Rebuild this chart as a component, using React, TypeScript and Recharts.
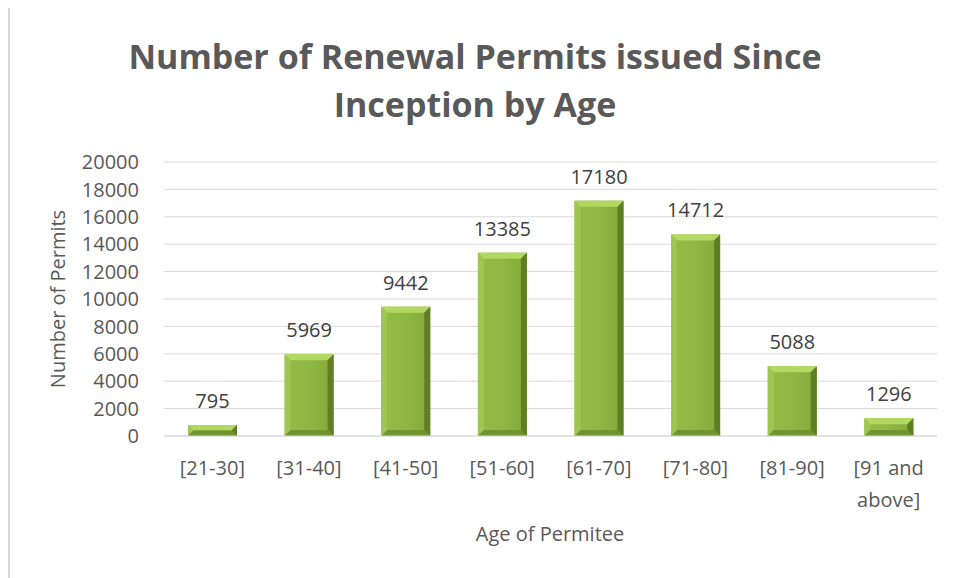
import React from 'react';
import { Bar, BarChart, CartesianGrid, LabelList, XAxis, YAxis } from 'recharts';

const ageGroups = ['[21-30]', '[31-40]', '[41-50]', '[51-60]', '[61-70]', '[71-80]', '[81-90]', '[91 and above]'];
const permits = [795, 5969, 9442, 13385, 17180, 14712, 5088, 1296];
const yTicks = [0, 2000, 4000, 6000, 8000, 10000, 12000, 14000, 16000, 18000, 20000];

const data = ageGroups.map((age, i) => ({ age, permits: permits[i] }));

const FONT = '"Open Sans", sans-serif';
const GRAY = '#595959';

const BevelBar = (props: any) => {
  const { x, y, width: w, height: h } = props;
  if (!h || h <= 0) return null;
  const b = Math.min(6, h / 2);
  return (
    <g>
      <rect x={x} y={y} width={w} height={h} fill="url(#barBody)" />
      <polygon points={`${x},${y} ${x + w},${y} ${x + w - b},${y + b} ${x + b},${y + b}`} fill="#b3d862" />
      <polygon points={`${x},${y} ${x + b},${y + b} ${x + b},${y + h - b} ${x},${y + h}`} fill="#9fc552" />
      <polygon points={`${x + w},${y} ${x + w},${y + h} ${x + w - b},${y + h - b} ${x + w - b},${y + b}`} fill="#607f25" />
      <polygon points={`${x},${y + h} ${x + w},${y + h} ${x + w - b},${y + h - b} ${x + b},${y + h - b}`} fill="#72942f" />
    </g>
  );
};

const AgeTick = (props: any) => {
  const { x, y, payload } = props;
  const label: string = payload.value;
  const cut = label.lastIndexOf(' ');
  const lines = label.length > 10 && cut > 0 ? [label.slice(0, cut), label.slice(cut + 1)] : [label];
  return (
    <text x={x} y={y + 39} textAnchor="middle" fill={GRAY} fontSize={20} fontFamily={FONT}>
      {lines.map((ln, i) => (
        <tspan key={i} x={x} dy={i === 0 ? 0 : 32}>
          {ln}
        </tspan>
      ))}
    </text>
  );
};

export default function App() {
  return (
    <div style={{ position: 'relative', width: 952, height: 573, marginTop: -3, fontFamily: FONT }}>
      <div
        style={{
          position: 'absolute',
          left: 0,
          top: 0,
          width: 952,
          height: 573,
          borderTop: '1px solid #d9d9d9',
          borderLeft: '2px solid #d9d9d9',
          boxSizing: 'border-box',
        }}
      />
      <div
        style={{
          position: 'absolute',
          left: 0,
          top: 27,
          width: 934,
          textAlign: 'center',
          fontSize: 34,
          lineHeight: '48px',
          fontWeight: 700,
          color: GRAY,
        }}
      >
        Number of Renewal Permits issued Since
        <br />
        Inception by Age
      </div>
      <BarChart width={952} height={573} data={data} margin={{ top: 157, right: 23, left: 0, bottom: 0 }}>
        <defs>
          <linearGradient id="barBody" x1="0" y1="0" x2="1" y2="0">
            <stop offset="0" stopColor="#94bd47" />
            <stop offset="0.5" stopColor="#8fb743" />
            <stop offset="1" stopColor="#84aa3a" />
          </linearGradient>
        </defs>
        <CartesianGrid vertical={false} stroke="#d9d9d9" />
        <XAxis
          dataKey="age"
          height={142}
          axisLine={{ stroke: '#d9d9d9' }}
          tickLine={false}
          tickSize={0}
          tickMargin={0}
          interval={0}
          tick={<AgeTick />}
        />
        <YAxis
          width={156}
          domain={[0, 20000]}
          ticks={yTicks}
          interval={0}
          axisLine={false}
          tickLine={false}
          tickSize={0}
          tickMargin={25}
          tick={{ fill: GRAY, fontSize: 20, fontFamily: FONT }}
        />
        <Bar dataKey="permits" barSize={49} shape={<BevelBar />} isAnimationActive={false}>
          <LabelList dataKey="permits" position="top" offset={17} fill="#404040" fontSize={20} fontFamily={FONT} />
        </Bar>
      </BarChart>
      <div
        style={{
          position: 'absolute',
          left: 50,
          top: 294,
          transform: 'translate(-50%, -50%) rotate(-90deg)',
          whiteSpace: 'nowrap',
          fontSize: 20,
          lineHeight: '20px',
          color: GRAY,
        }}
      >
        Number of Permits
      </div>
      <div
        style={{
          position: 'absolute',
          left: 442,
          top: 519,
          width: 200,
          textAlign: 'center',
          fontSize: 20,
          lineHeight: '20px',
          color: GRAY,
        }}
      >
        Age of Permitee
      </div>
    </div>
  );
}
